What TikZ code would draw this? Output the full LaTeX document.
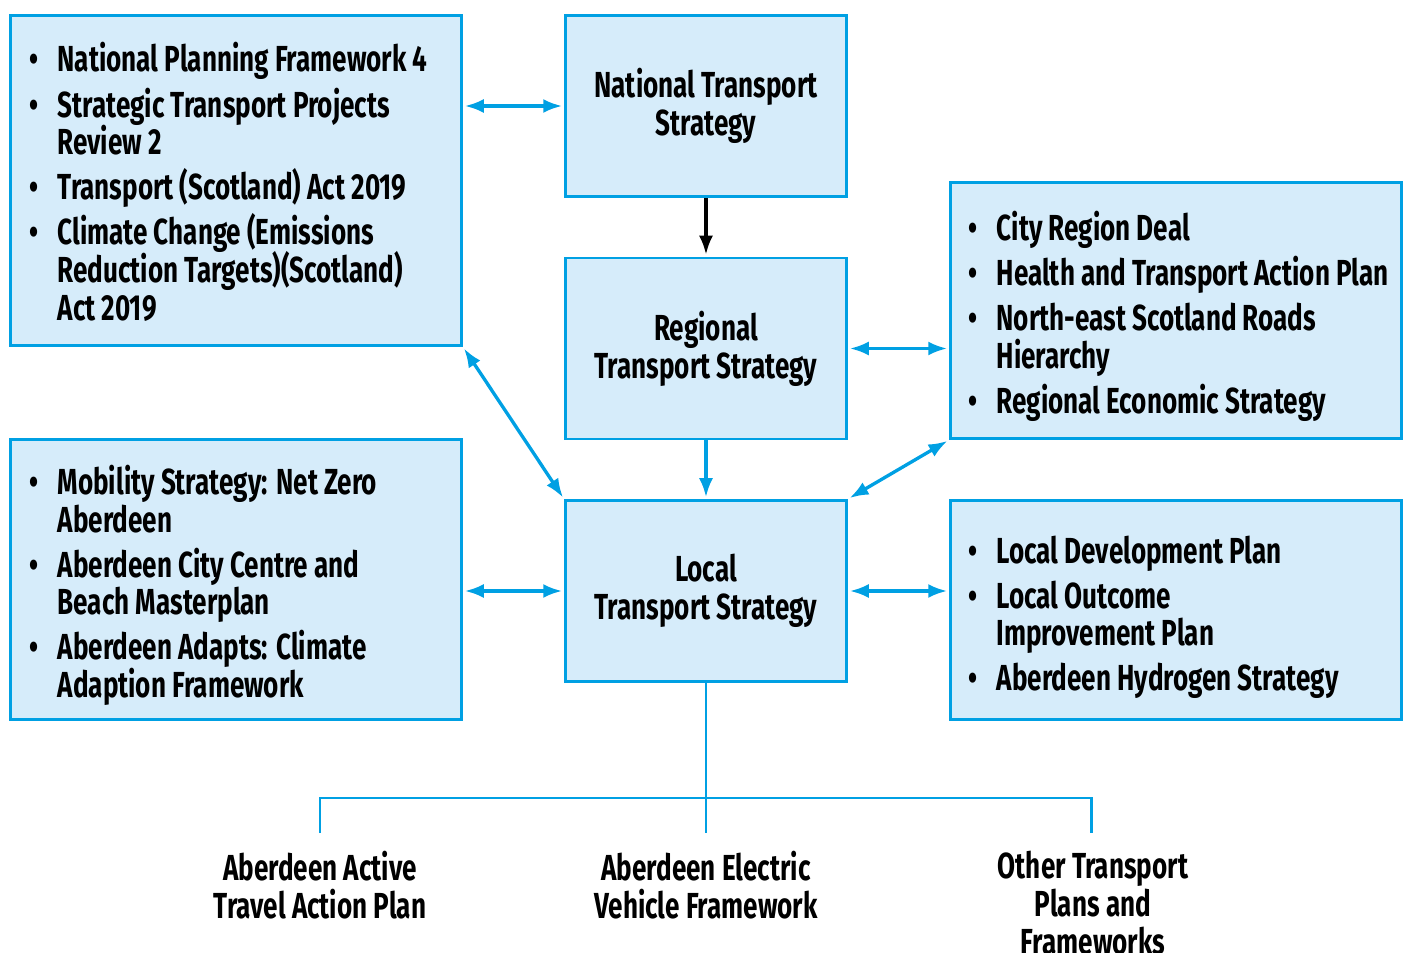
\documentclass[tikz,border=0pt]{standalone}
\usepackage{fontspec}
\setmainfont{Fira Sans}[FakeStretch=0.72]
\usepackage{tikz}
\usetikzlibrary{arrows.meta}
\definecolor{lineblue}{RGB}{0,160,227}
\definecolor{boxblue}{RGB}{214,236,250}
\newlength{\bulletgap}
\setlength{\bulletgap}{0.24cm}
\newcommand{\boxfont}{\fontsize{10.3}{10.8}\selectfont\bfseries\setlength{\lineskiplimit}{-5pt}}
\newcommand{\listfont}{\fontsize{10.3}{10.7}\selectfont\bfseries\setlength{\parskip}{0.075cm}\setlength{\lineskiplimit}{-5pt}}
\newcommand{\bitem}[1]{\par\noindent\hangindent=\bulletgap\hangafter=1\makebox[\bulletgap][l]{\hspace{-0.04cm}\textbullet}#1\par}

\begin{document}
\begin{tikzpicture}[
    box/.style={draw=lineblue, fill=boxblue, line width=0.85pt, inner sep=0pt},
    docbox/.style={box, minimum width=4.51cm},
    stratbox/.style={box, minimum width=2.81cm, minimum height=1.81cm, align=center, font=\boxfont},
    listbox/.style={anchor=west, inner sep=0pt, text width=4.3cm, align=flush left, font=\listfont},
    link/.style={lineblue, line width=0.95pt, {Latex[length=0.19cm,width=0.14cm]}-{Latex[length=0.19cm,width=0.14cm]}, shorten <=0.5pt, shorten >=0.5pt},
    feed/.style={line width=0.95pt, -{Latex[length=0.19cm,width=0.14cm]}, shorten >=0.5pt},
    tree/.style={lineblue, line width=0.85pt},
    planlabel/.style={anchor=north, align=center, font=\boxfont, inner sep=0pt}
]
    \useasboundingbox (0,0) rectangle (14.08,9.52);

    % Strategy boxes
    \node[stratbox] (nts) at (7.06,8.46) {National Transport\\Strategy};
    \node[stratbox] (rts) at (7.06,6.035) {Regional\\Transport Strategy};
    \node[stratbox] (lts) at (7.06,3.61) {Local\\Transport Strategy};

    % Related documents
    \node[docbox, minimum height=3.30cm] (natdocs) at (2.36,7.715) {};
    \node[listbox] (natlist) at ([xshift=0.24cm,yshift=0.065cm]natdocs.west) {
        \bitem{National Planning Framework 4}
        \bitem{Strategic Transport Projects\newline Review 2}
        \bitem{Transport (Scotland) Act 2019}
        \bitem{Climate Change (Emissions\newline Reduction Targets)(Scotland)\newline Act 2019}};

    \node[docbox, minimum height=2.56cm] (regdocs) at (11.76,6.415) {};
    \node[listbox] (reglist) at ([xshift=0.23cm,yshift=0.02cm]regdocs.west) {
        \bitem{City Region Deal}
        \bitem{Health and Transport Action Plan}
        \bitem{North-east Scotland Roads\newline Hierarchy}
        \bitem{Regional Economic Strategy}};

    \node[docbox, minimum height=2.80cm] (citydocs) at (2.36,3.725) {};
    \node[listbox] (citylist) at ([xshift=0.24cm,yshift=0.02cm]citydocs.west) {
        \bitem{Mobility Strategy: Net Zero\newline Aberdeen}
        \bitem{Aberdeen City Centre and\newline Beach Masterplan}
        \bitem{Aberdeen Adapts: Climate\newline Adaption Framework}};

    \node[docbox, minimum height=2.19cm] (localdocs) at (11.76,3.42) {};
    \node[listbox] (locallist) at ([xshift=0.23cm,yshift=0.015cm]localdocs.west) {
        \bitem{Local Development Plan}
        \bitem{Local Outcome\newline Improvement Plan}
        \bitem{Aberdeen Hydrogen Strategy}};

    % Links between strategies and documents
    \draw[link] (natdocs.east |- nts.west) -- (nts.west);
    \draw[feed] (nts) -- (rts);
    \draw[link] (rts.east) -- (rts.east -| regdocs.west);
    \draw[feed, lineblue] (rts) -- (lts);
    \draw[link] (natdocs.south east) -- (lts.north west);
    \draw[link] (regdocs.south west) -- (lts.north east);
    \draw[link] (lts.west -| citydocs.east) -- (lts.west);
    \draw[link] (lts.east) -- (lts.east -| localdocs.west);

    % Local plans
    \coordinate (split) at (7.06,1.54);
    \coordinate (atapTop) at (3.20,1.19);
    \coordinate (evfTop) at (7.06,1.19);
    \coordinate (otpTop) at (10.91,1.19);
    \draw[tree] (lts.south) -- (evfTop);
    \draw[tree] (atapTop) |- (split) -| (otpTop);

    \node[planlabel] (atap) at (3.20,1.02) {Aberdeen Active\\Travel Action Plan};
    \node[planlabel] (evf) at (7.06,1.02) {Aberdeen Electric\\Vehicle Framework};
    \node[planlabel] (otp) at (10.93,1.02) {Other Transport\\Plans and\\Frameworks};
\end{tikzpicture}
\end{document}
